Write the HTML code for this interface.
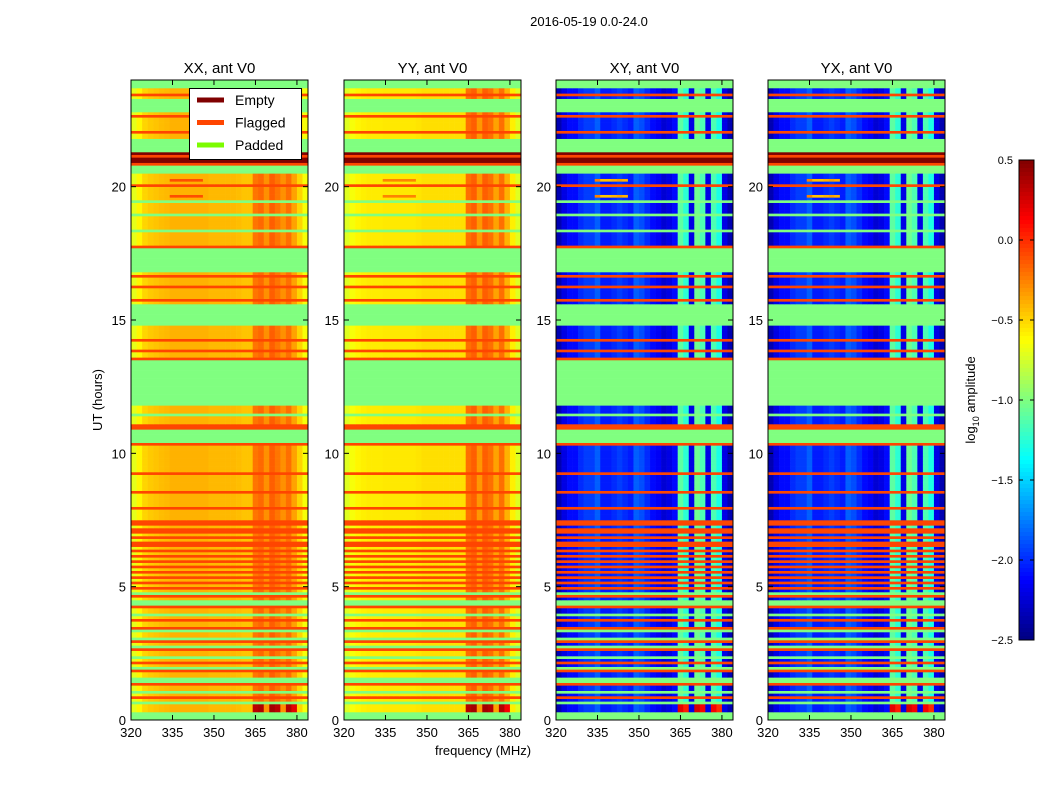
<!DOCTYPE html>
<html><head><meta charset="utf-8"><style>
html,body{margin:0;padding:0;background:#fff;}
svg text{font-family:"Liberation Sans","DejaVu Sans",sans-serif;}
</style></head><body>
<svg id="fig" xmlns="http://www.w3.org/2000/svg" width="1050" height="800" viewBox="0 0 1050 800">
<rect x="0" y="0" width="1050" height="800" fill="#fff"/>
<text x="589" y="26" font-size="13" text-anchor="middle">2016-05-19 0.0-24.0</text>
<text x="0" y="0" font-size="13" text-anchor="middle" transform="translate(102,400) rotate(-90)">UT (hours)</text>
<text x="483" y="755" font-size="13" text-anchor="middle">frequency (MHz)</text>
<g id="panels"></g>
<g id="cbar"></g>
<text font-size="13" text-anchor="middle" transform="translate(975,400) rotate(-90)">log<tspan font-size="9" dy="4">10</tspan><tspan dy="-4"> amplitude</tspan></text>
</svg>
<script>
// ---- data ----
const panelTitles = ["XX, ant V0","YY, ant V0","XY, ant V0","YX, ant V0"];
const freqBins = [320,322,324,326,328,330,332,334,336,338,340,342,344,346,348,350,352,354,356,358,360,362,364,366,368,370,372,374,376,378,380,382];
const levelXX = [-0.7,-0.6,-0.5,-0.47,-0.45,-0.43,-0.42,-0.4,-0.4,-0.4,-0.4,-0.4,-0.4,-0.4,-0.42,-0.42,-0.42,-0.42,-0.42,-0.43,-0.45,-0.45,-0.22,-0.18,-0.3,-0.15,-0.22,-0.3,-0.2,-0.35,-0.5,-0.65];
const levelYY = [-0.72,-0.65,-0.6,-0.58,-0.57,-0.57,-0.57,-0.56,-0.56,-0.56,-0.56,-0.56,-0.56,-0.55,-0.53,-0.53,-0.53,-0.53,-0.53,-0.53,-0.53,-0.53,-0.2,-0.15,-0.32,-0.15,-0.2,-0.35,-0.2,-0.4,-0.58,-0.72];
const levelXY = [-2.35,-2.2,-2.1,-2.1,-2.0,-1.95,-1.95,-1.85,-2.05,-2.05,-2.0,-1.95,-2.0,-2.05,-1.85,-1.9,-2.0,-2.1,-2.15,-2.25,-2.2,-2.1,-1.1,-1.25,-2.2,-1.05,-1.15,-2.2,-1.15,-1.3,-2.2,-2.35];
const levelYX = [-2.35,-2.2,-2.1,-2.1,-2.0,-1.95,-1.95,-1.85,-2.05,-2.05,-2.0,-1.95,-2.0,-2.05,-1.85,-1.9,-2.0,-2.1,-2.15,-2.25,-2.2,-2.1,-1.1,-1.25,-2.2,-1.05,-1.15,-2.2,-1.15,-1.3,-2.2,-2.35];
const rfiBins = [0,0,0,0,0,0,0,0,0,0,0,0,0,0,0,0,0,0,0,0,0,0,1,1,0,1,1,0,1,1,0,0];
const streakBins = [0,0,0,0,0,0,0,1,1,1,1,1,1,0,0,0,0,0,0,0,0,0,0,0,0,0,0,0,0,0,0,0];
// one char per 0.1 h from 0 h upward: P padded, F flagged, E empty, D data, R strong RFI, S streak
const rowCodes = "PPP"+"RRR"+"P"+"DFDPDDF"+"PPD"+"DFPDFDPDDFPD"+"FPDDPFD"+"DFDPDDF"+"PPDFP"+
  "DFDFDFDFDFDFDFDFD"+"FFDFDFFDFF"+"DDDDFDDDDDFDDDDDDFDDDDDDDDDDF"+"PPPPP"+"FF"+"DDDPDDD"+
  "PPPPPPPPPPPPPPPPP"+"FDDFDDDFDDDDDP"+"PPPPPPP"+"DFDDDDFDDDFD"+"PPPPPPPPP"+
  "FDDDDDPDDDDDPDDDDPDSDDDFDSDD"+"PPP"+"FEEFE"+"PPPPP"+"DDFDDDDDFD"+"PPPPP"+"DFDD"+"PPP";
const xTicks = [320,335,350,365,380];
const yTicks = [0,5,10,15,20];
const cbTicks = [0.5,0.0,-0.5,-1.0,-1.5,-2.0,-2.5];

// ---- geometry ----
const NS="http://www.w3.org/2000/svg";
const lefts=[131,344,556,768], axTop=80, W=177, H=640;
const fmin=320,fmax=384,tmin=0,tmax=24,vmin=-2.5,vmax=0.5;
function jet(v){let t=(v-vmin)/(vmax-vmin);t=Math.max(0,Math.min(1,t));
 const c=x=>Math.round(255*Math.max(0,Math.min(1,1.5-Math.abs(x))));
 return `rgb(${c(4*t-3)},${c(4*t-2)},${c(4*t-1)})`;}
function mk(tag,attrs,parent){const e=document.createElementNS(NS,tag);for(const k in attrs)e.setAttribute(k,attrs[k]);parent.appendChild(e);return e;}
const levels=[levelXX,levelYY,levelXY,levelYX];
const hPer=(tmax-tmin)/rowCodes.length;
const panelsG=document.getElementById('panels');
panelTitles.forEach((title,p)=>{
 const L=lefts[p];
 const xs=f=>L+(f-fmin)/(fmax-fmin)*W;
 const ys=h=>axTop+H-(h-tmin)/(tmax-tmin)*H;
 const g=mk('g',{},panelsG);
 
 
 for(let r=0;r<rowCodes.length;r++){
  const code=rowCodes[r];
  const y0=ys((r+1)*hPer), y1=ys(r*hPer);
  if(code==='P'||code==='F'||code==='E'){
   const col=code==='P'?'#80ff80':code==='F'?'#ff4500':'#800000';
   const rc=mk('rect',{x:L,y:y0,width:W,height:(y1-y0)+0.3,fill:col},g);
   
   
   continue;
  }
  for(let c=0;c<freqBins.length;c++){
   let v=levels[p][c];
   if(code==='R'&&rfiBins[c])v+=p<2?0.55:1.3;
   if(code==='S'&&streakBins[c])v+=p<2?0.3:1.6;
   const x0=xs(freqBins[c]), x1=xs(c+1<freqBins.length?freqBins[c+1]:fmax);
   const cell=mk('rect',{x:x0,y:y0,width:(x1-x0)+0.3,height:(y1-y0)+0.3,fill:jet(v)},g);
   
   
  }
 }
 const fr=mk('rect',{x:L,y:axTop,width:W,height:H,fill:'none',stroke:'#000','stroke-width':1},g);
 
 
 const tt=mk('text',{x:L+W/2,y:axTop-7,'font-size':15,'text-anchor':'middle'},g);tt.textContent=title;
 
 
 xTicks.forEach(f=>{const x=xs(f);
  mk('line',{x1:x,x2:x,y1:axTop+H,y2:axTop+H-5,stroke:'#000'},g);
  mk('line',{x1:x,x2:x,y1:axTop,y2:axTop+5,stroke:'#000'},g);
  const t=mk('text',{x:x,y:axTop+H+17,'font-size':13,'text-anchor':'middle'},g);t.textContent=f;
  
  });
 yTicks.forEach(h=>{const y=ys(h);
  mk('line',{x1:L,x2:L+5,y1:y,y2:y,stroke:'#000'},g);
  mk('line',{x1:L+W,x2:L+W-5,y1:y,y2:y,stroke:'#000'},g);
  const t=mk('text',{x:L-5,y:y+5,'font-size':13,'text-anchor':'end'},g);t.textContent=h;
  
  });
});
// legend
const lg=mk('g',{},panelsG);


mk('rect',{x:189.5,y:88.5,width:112,height:71,fill:'#fff',stroke:'#000'},lg);
[["Empty","#800000"],["Flagged","#ff4500"],["Padded","#7cfc00"]].forEach((e,i)=>{
 const y=100+i*22.5;
 mk('line',{x1:197,x2:224,y1:y,y2:y,stroke:e[1],'stroke-width':5},lg);
 const t=mk('text',{x:235,y:y+5,'font-size':14},lg);t.textContent=e[0];
 
 
});
// colorbar
const cb=document.getElementById('cbar');
const cbx=1019,cby=160,cbw=15,cbh=480;
for(let i=0;i<120;i++){const v=vmax-(i+0.5)/120*(vmax-vmin);
 mk('rect',{x:cbx,y:cby+i*cbh/120,width:cbw,height:cbh/120+0.5,fill:jet(v)},cb);}
mk('rect',{x:cbx,y:cby,width:cbw,height:cbh,fill:'none',stroke:'#000'},cb);
cbTicks.forEach(v=>{const y=cby+(vmax-v)/(vmax-vmin)*cbh;
 mk('line',{x1:cbx,x2:cbx+4,y1:y,y2:y,stroke:'#000'},cb);
 mk('line',{x1:cbx+cbw,x2:cbx+cbw-4,y1:y,y2:y,stroke:'#000'},cb);
 const t=mk('text',{x:cbx-6,y:y+4,'font-size':11,'text-anchor':'end'},cb);t.textContent=(v<0?'\u2212':'')+Math.abs(v).toFixed(1);
 
 });
</script>
</body></html>
